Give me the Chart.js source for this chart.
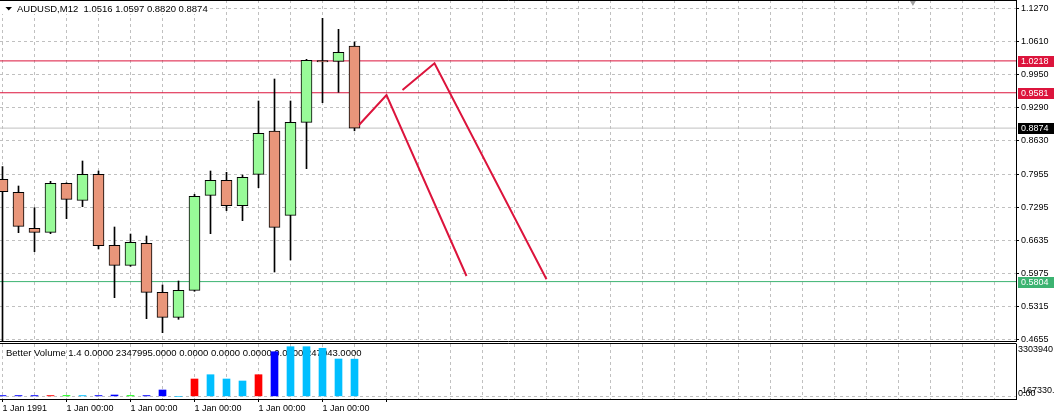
<!DOCTYPE html>
<html><head><meta charset="utf-8">
<script src="https://cdn.jsdelivr.net/npm/chart.js@4.4.1/dist/chart.umd.min.js"></script>
<style>
html,body{margin:0;padding:0;background:#fff;}
#wrap{position:relative;width:1056px;height:417px;overflow:hidden;background:#fff;}
#main{position:absolute;left:0;top:0;}
#vol{position:absolute;left:0;top:342px;}
</style></head><body>
<div id="wrap"><canvas id="main" width="1056" height="343"></canvas><canvas id="vol" width="1056" height="75"></canvas></div>
<script>
// ---------- DATA ----------
const years  = [1991,1992,1993,1994,1995,1996,1997,1998,1999,2000,2001,2002,2003,2004,2005,2006,2007,2008,2009,2010,2011,2012,2013];
const openP  = [0.7850,0.7589,0.6869,0.6789,0.7769,0.7429,0.7949,0.6530,0.6129,0.6569,0.5589,0.5089,0.5629,0.7529,0.7829,0.7323,0.7949,0.8816,0.7129,0.8990,1.0226,1.0209,1.0516];
const highP  = [0.8102,0.7716,0.7283,0.7810,0.7780,0.8216,0.8016,0.6896,0.6756,0.6716,0.5736,0.5816,0.7550,0.8016,0.7989,0.7936,0.9416,0.9856,0.9416,1.0250,1.1069,1.0849,1.0597];
const lowP   = [0.3000,0.6783,0.6403,0.6762,0.7063,0.7303,0.6456,0.5483,0.6110,0.5062,0.4782,0.5050,0.5610,0.6763,0.7223,0.7023,0.7683,0.5996,0.6236,0.8063,0.9382,0.9590,0.8820];
const closeP = [0.7602,0.6909,0.6789,0.7769,0.7449,0.7949,0.6523,0.6129,0.6589,0.5589,0.5089,0.5629,0.7509,0.7829,0.7323,0.7889,0.8769,0.6889,0.8989,1.0229,1.0196,1.0389,0.8874];
const volume = [50000,50000,50000,50000,50000,50000,50000,85000,50000,50000,401000,0,1095000,1366000,1095000,969000,1366000,2818000,3134000,3134000,3033000,2357000,2347995];
const volColor = ['#0000FF','#0000FF','#0000FF','#FF0000','#00FF00','#00BFFF','#0000FF','#0000FF','#00FF00','#0000FF','#0000FF','#00BFFF','#FF0000','#00BFFF','#00BFFF','#00BFFF','#FF0000','#0000FF','#00BFFF','#00BFFF','#00BFFF','#00BFFF','#00BFFF'];
const yTickValues = [1.1270,1.0610,0.9950,0.9290,0.8630,0.7955,0.7295,0.6635,0.5975,0.5315,0.4655];
const xLabelYears = [1991,1995,1999,2003,2007,2011];
const xLabelTexts = ['1 Jan 1991','1 Jan 00:00','1 Jan 00:00','1 Jan 00:00','1 Jan 00:00','1 Jan 00:00'];
const levelValues = [1.0218,0.9581,0.8874,0.5804];
const levelColors = ['#DC143C','#DC143C','#C0C0C0','#3CB371'];
const levelLabelBg = ['#DC143C','#DC143C','#000000','#3CB371'];
const trend1X = [2013.28,2015.0,2020.0];
const trend1Y = [0.8936,0.9536,0.5916];
const trend2X = [2016.0,2018.0,2025.0];
const trend2Y = [0.9636,1.0170,0.5850];
const titleText = 'AUDUSD,M12  1.0516 1.0597 0.8820 0.8874';
const volTitle = 'Better Volume 1.4 0.0000 2347995.0000 0.0000 0.0000 0.0000 0.0000 247043.0000';
const volMaxLabel = '3303940', volMinLabel = '-167330.', volZeroLabel = '0.00';
const VOL_MAX = 3303940, VOL_MIN = -167330;
const Y_MAX = 1.1436, Y_MIN = 0.4616;
const X_MIN = 1990.84375, X_MAX = 2054.34375;
const SHIFT_MARK = {x: 2047.9, y: 1.1426};

// ---------- HELPERS ----------
const FONT = "'Liberation Sans', Arial, sans-serif";
const GRID = '#c0c0c0';
const gridYears = [];
for (let y = 1991; y <= 2053; y += 2) gridYears.push(y);
const labelMap = {};
xLabelYears.forEach((y, i) => labelMap[y] = xLabelTexts[i]);
function zeroPad(s) { s.paddingLeft = 0; s.paddingRight = 0; s.paddingTop = 0; s.paddingBottom = 0; }

const wicks  = years.map((y, i) => ({x: y, y: [lowP[i], highP[i]]}));
const bodies = years.map((y, i) => ({x: y, y: [openP[i], closeP[i]]}));
const bodyColors = years.map((y, i) => closeP[i] >= openP[i] ? '#98FB98' : '#E9967A');
const levelSets = levelValues.map((v, i) => ({
  type: 'line', data: [{x: X_MIN, y: v}, {x: X_MAX, y: v}], borderColor: levelColors[i],
  borderWidth: 1, pointRadius: 0, clip: 0, order: 10
}));
const trendSet = (xs, ys) => ({
  type: 'line', data: xs.map((x, i) => ({x, y: ys[i]})), borderColor: '#DC143C',
  borderWidth: 2, pointRadius: 0, clip: 0, order: 0
});

const mainDeco = {
  id: 'mainDeco',
  afterDatasetsDraw(chart) {
    const ctx = chart.ctx;
    ctx.save();
    ctx.fillStyle = '#fff';
    ctx.fillRect(0, 1, 208, 13);
    ctx.fillStyle = '#000';
    ctx.beginPath(); ctx.moveTo(5.5, 7); ctx.lineTo(12, 7); ctx.lineTo(8.75, 10.5); ctx.closePath(); ctx.fill();
    ctx.font = '9.5px ' + FONT;
    ctx.textBaseline = 'alphabetic';
    ctx.fillText(titleText, 17, 12);
    ctx.restore();
  },
  afterDraw(chart) {
    const ctx = chart.ctx, a = chart.chartArea, ys = chart.scales.y;
    ctx.save();
    ctx.strokeStyle = '#000'; ctx.lineWidth = 1;
    ctx.beginPath(); ctx.moveTo(0, 0.5); ctx.lineTo(a.right + 0.5, 0.5); ctx.stroke();
    ctx.font = '9px ' + FONT;
    ctx.textBaseline = 'middle';
    levelValues.forEach((v, i) => {
      const py = ys.getPixelForValue(v);
      ctx.fillStyle = levelLabelBg[i];
      ctx.fillRect(a.right + 2, Math.round(py) - 5, 36, 11);
      ctx.fillStyle = '#fff';
      ctx.fillText(v.toFixed(4), a.right + 5, Math.round(py) + 0.5);
    });
    ctx.restore();
  }
};

new Chart(document.getElementById('main'), {
  type: 'bar',
  data: {
    datasets: [
      ...levelSets,
      {type: 'bar', data: wicks, backgroundColor: '#000', barThickness: 1, grouped: false, clip: 0, order: 3},
      {type: 'bar', data: bodies, backgroundColor: bodyColors, borderColor: '#000', borderWidth: 1,
       borderSkipped: false, barThickness: 11, grouped: false, clip: 0, order: 2},
      trendSet(trend1X, trend1Y),
      trendSet(trend2X, trend2Y),
      {type: 'scatter', data: [SHIFT_MARK], pointStyle: 'triangle', rotation: 180, radius: 5.5,
       backgroundColor: '#a0a0a0', borderColor: '#a0a0a0', borderWidth: 0, clip: false, order: 0}
    ]
  },
  options: {
    responsive: false, animation: false, devicePixelRatio: 1,
    layout: {autoPadding: false, padding: {left: 0, right: 0, top: 0, bottom: 2}},
    plugins: {legend: {display: false}, tooltip: {enabled: false}},
    scales: {
      x: {
        type: 'linear', min: X_MIN, max: X_MAX, position: 'bottom', offset: false,
        afterBuildTicks: s => { s.ticks = gridYears.map(v => ({value: v})); },
        afterFit: s => { s.height = 0; zeroPad(s); },
        ticks: {display: false},
        grid: {color: GRID, drawTicks: false, offset: false, borderDash: [3, 3]},
        border: {display: true, color: '#000', width: 1, dash: [3, 3]}
      },
      y: {
        type: 'linear', position: 'right', min: Y_MIN, max: Y_MAX,
        afterBuildTicks: s => { s.ticks = yTickValues.map(v => ({value: v})); },
        afterFit: s => { s.width = 40; zeroPad(s); },
        ticks: {autoSkip: false, padding: 2, color: '#000', font: {family: FONT, size: 9},
                callback: v => Number(v).toFixed(4)},
        grid: {color: GRID, tickColor: '#000', tickLength: 3, tickBorderDash: [], borderDash: [3, 3]},
        border: {display: true, color: '#000', width: 1, dash: [3, 3]}
      }
    }
  },
  plugins: [mainDeco]
});

// ---------- VOLUME PANEL ----------
const volDeco = {
  id: 'volDeco',
  beforeDatasetsDraw(chart) {
    const ctx = chart.ctx;
    ctx.save();
    ctx.fillStyle = '#000';
    ctx.font = '9.5px ' + FONT;
    ctx.textBaseline = 'alphabetic';
    ctx.fillText(volTitle, 6, 14);
    ctx.restore();
  },
  afterDraw(chart) {
    const ctx = chart.ctx, a = chart.chartArea, ys = chart.scales.y;
    ctx.save();
    ctx.strokeStyle = '#000'; ctx.lineWidth = 1;
    ctx.beginPath(); ctx.moveTo(0, 1.5); ctx.lineTo(a.right + 0.5, 1.5); ctx.stroke();
    ctx.fillStyle = '#000';
    ctx.font = '9px ' + FONT;
    ctx.textBaseline = 'middle';
    ctx.fillText(volMaxLabel, a.right + 2, ys.getPixelForValue(VOL_MAX) + 6);
    ctx.fillText(volMinLabel, a.right + 3, ys.getPixelForValue(VOL_MIN) - 8.5);
    ctx.fillText(volZeroLabel, a.right + 2, ys.getPixelForValue(0) - 2.5);
    ctx.restore();
  }
};

new Chart(document.getElementById('vol'), {
  type: 'bar',
  data: {
    datasets: [{
      data: years.map((y, i) => ({x: y, y: volume[i]})),
      backgroundColor: volColor, barThickness: 7, grouped: false, clip: 0, borderWidth: 0
    }]
  },
  options: {
    responsive: false, animation: false, devicePixelRatio: 1,
    layout: {autoPadding: false, padding: {left: 0, right: 0, top: 2, bottom: 0}},
    plugins: {legend: {display: false}, tooltip: {enabled: false}},
    scales: {
      x: {
        type: 'linear', min: X_MIN, max: X_MAX, position: 'bottom', offset: false,
        afterBuildTicks: s => { s.ticks = gridYears.map(v => ({value: v})); },
        afterFit: s => { s.height = 18; zeroPad(s); },
        ticks: {autoSkip: false, maxRotation: 0, minRotation: 0, align: 'start', padding: 1,
                color: '#000', font: {family: FONT, size: 9},
                callback: v => labelMap[v] || ''},
        grid: {color: GRID, tickLength: 3, offset: false, tickBorderDash: [], borderDash: [3, 3],
               tickColor: c => (c.tick && (c.tick.value - 1991) % 4 === 0 && c.tick.value <= 2015) ? '#000' : 'rgba(0,0,0,0)'},
        border: {display: true, color: '#000', width: 1, dash: [3, 3]}
      },
      y: {
        type: 'linear', position: 'right', min: VOL_MIN, max: VOL_MAX,
        afterBuildTicks: s => { s.ticks = [{value: 0}]; },
        afterFit: s => { s.width = 40; zeroPad(s); },
        ticks: {display: false},
        grid: {color: GRID, drawTicks: false, borderDash: [3, 3]},
        border: {display: true, color: '#000', width: 1, dash: [3, 3]}
      }
    }
  },
  plugins: [volDeco]
});
</script>
</body></html>
